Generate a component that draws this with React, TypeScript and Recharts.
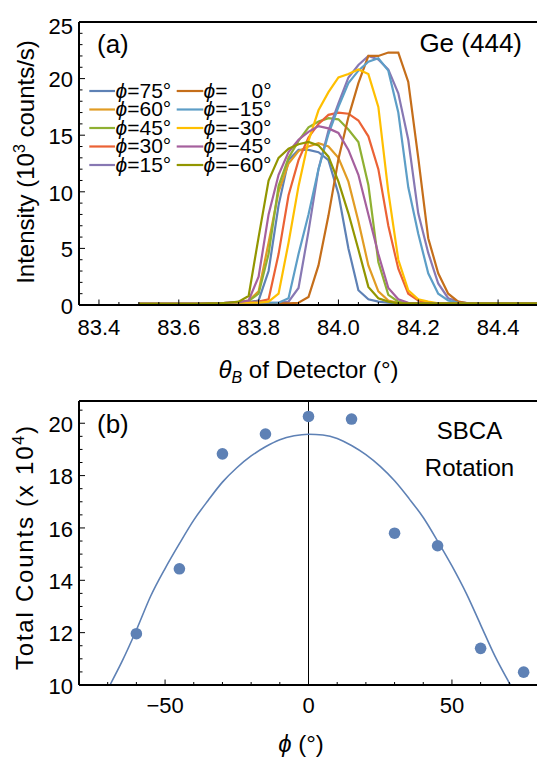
import React from 'react';
import { LineChart, Line, XAxis, YAxis, ComposedChart, Scatter, ReferenceLine } from 'recharts';

const FONT = '"Liberation Sans", Arial, Helvetica, sans-serif';

// (a) detector scans, intensity in 10^3 counts/s
const theta = [
  83.5, 83.525, 83.55, 83.575, 83.6, 83.625, 83.65, 83.675, 83.7, 83.725,
  83.75, 83.775, 83.8, 83.825, 83.85, 83.875, 83.9, 83.925, 83.95, 83.975,
  84.0, 84.025, 84.05, 84.075, 84.1, 84.125, 84.15, 84.175, 84.2, 84.225,
  84.25, 84.275, 84.3, 84.325, 84.35, 84.375, 84.4, 84.425, 84.45, 84.475, 84.5,
];

const phi75 = [0.1, 0.1, 0.1, 0.1, 0.1, 0.1, 0.1, 0.15, 0.15, 0.2, 0.2, 0.25, 0.4, 3.0, 8.8, 12.8, 13.7, 13.7, 13.5, 12.8, 9.8, 5.0, 1.3, 0.5, 0.3, 0.2, 0.15, 0.15, 0.15, 0.15, 0.15, 0.15, 0.15, 0.15, 0.15, 0.15, 0.15, 0.15, 0.15, 0.15, 0.15];
const phi60 = [0.1, 0.1, 0.1, 0.1, 0.1, 0.1, 0.1, 0.15, 0.15, 0.2, 0.25, 0.4, 1.2, 5.5, 10.0, 12.5, 13.6, 14.0, 14.3, 14.0, 13.0, 10.9, 7.4, 3.5, 1.2, 0.4, 0.2, 0.15, 0.15, 0.15, 0.15, 0.15, 0.15, 0.15, 0.15, 0.15, 0.15, 0.15, 0.15, 0.15, 0.15];
const phi45 = [0.1, 0.1, 0.1, 0.1, 0.1, 0.1, 0.1, 0.15, 0.15, 0.2, 0.25, 0.35, 1.0, 4.5, 10.5, 13.0, 14.5, 15.7, 16.2, 16.5, 16.4, 15.5, 14.4, 10.6, 3.8, 0.9, 0.3, 0.15, 0.15, 0.15, 0.15, 0.15, 0.15, 0.15, 0.15, 0.15, 0.15, 0.15, 0.15, 0.15, 0.15];
const phi30 = [0.1, 0.1, 0.1, 0.1, 0.1, 0.1, 0.1, 0.15, 0.15, 0.2, 0.2, 0.25, 0.3, 0.5, 4.5, 9.7, 12.8, 14.8, 16.0, 16.8, 17.0, 16.9, 16.3, 14.9, 12.0, 7.0, 3.2, 1.0, 0.4, 0.2, 0.15, 0.15, 0.15, 0.15, 0.15, 0.15, 0.15, 0.15, 0.15, 0.15, 0.15];
const phi15 = [0.1, 0.1, 0.1, 0.1, 0.1, 0.1, 0.1, 0.15, 0.15, 0.2, 0.2, 0.2, 0.2, 0.2, 0.2, 0.3, 1.5, 6.5, 12.0, 15.4, 17.8, 20.1, 21.2, 22.0, 21.7, 20.8, 18.7, 14.6, 8.1, 4.6, 1.9, 0.6, 0.3, 0.15, 0.15, 0.15, 0.15, 0.15, 0.15, 0.15, 0.15];
const phi0 = [0.1, 0.1, 0.1, 0.1, 0.1, 0.1, 0.1, 0.15, 0.15, 0.15, 0.15, 0.15, 0.15, 0.15, 0.15, 0.15, 0.2, 0.7, 3.5, 7.9, 12.9, 16.6, 19.6, 22.0, 22.0, 22.3, 22.3, 19.7, 13.0, 5.9, 2.8, 1.0, 0.3, 0.15, 0.15, 0.15, 0.15, 0.15, 0.15, 0.15, 0.15];
const phiM15 = [0.1, 0.1, 0.1, 0.1, 0.1, 0.1, 0.1, 0.15, 0.15, 0.2, 0.2, 0.2, 0.2, 0.2, 0.2, 0.6, 4.5, 8.0, 12.0, 15.1, 17.5, 19.6, 20.7, 21.5, 21.8, 20.7, 17.0, 10.4, 6.3, 2.8, 1.0, 0.4, 0.2, 0.15, 0.15, 0.15, 0.15, 0.15, 0.15, 0.15, 0.15];
const phiM30 = [0.1, 0.1, 0.1, 0.1, 0.1, 0.1, 0.1, 0.15, 0.15, 0.2, 0.2, 0.2, 0.2, 0.3, 1.0, 5.5, 10.5, 14.5, 17.2, 18.8, 20.1, 20.4, 20.8, 20.4, 17.5, 10.0, 4.0, 1.3, 0.5, 0.3, 0.15, 0.15, 0.15, 0.15, 0.15, 0.15, 0.15, 0.15, 0.15, 0.15, 0.15];
const phiM45 = [0.1, 0.1, 0.1, 0.1, 0.1, 0.1, 0.1, 0.15, 0.15, 0.2, 0.25, 0.4, 2.5, 8.0, 11.5, 13.5, 14.6, 15.3, 15.8, 15.6, 15.2, 13.7, 11.5, 8.0, 4.5, 1.5, 0.5, 0.2, 0.15, 0.15, 0.15, 0.15, 0.15, 0.15, 0.15, 0.15, 0.15, 0.15, 0.15, 0.15, 0.15];
const phiM60 = [0.1, 0.1, 0.1, 0.1, 0.1, 0.1, 0.1, 0.15, 0.15, 0.2, 0.3, 0.8, 6.0, 11.0, 13.0, 13.8, 14.2, 14.4, 14.1, 13.1, 10.9, 8.1, 4.9, 1.6, 0.6, 0.3, 0.15, 0.15, 0.15, 0.15, 0.15, 0.15, 0.15, 0.15, 0.15, 0.15, 0.15, 0.15, 0.15, 0.15, 0.15];

const scans = [phi75, phi60, phi45, phi30, phi15, phi0, phiM15, phiM30, phiM45, phiM60];
const scanLabels = ['75°', '60°', '45°', '30°', '15°', '0°', '−15°', '−30°', '−45°', '−60°'];
const scanColors = ['#5E81B5', '#E19C24', '#8FB032', '#EB6235', '#8778B3', '#C56E1A', '#5D9EC7', '#FFBF00', '#A5609D', '#929600'];

const thetaTicks = [83.4, 83.45, 83.5, 83.55, 83.6, 83.65, 83.7, 83.75, 83.8, 83.85, 83.9, 83.95, 84.0, 84.05, 84.1, 84.15, 84.2, 84.25, 84.3, 84.35, 84.4, 84.45];
const thetaLabels = [83.4, 83.6, 83.8, 84.0, 84.2, 84.4];
const intensityTicks = [0, 1, 2, 3, 4, 5, 6, 7, 8, 9, 10, 11, 12, 13, 14, 15, 16, 17, 18, 19, 20, 21, 22, 23, 24, 25];
const intensityLabels = [0, 5, 10, 15, 20, 25];

// (b) total counts (x 10^4) vs rotation angle
const phiMeasured = [-60, -45, -30, -15, 0, 15, 30, 45, 60, 75];
const totalCounts = [11.96, 14.44, 18.83, 19.59, 20.26, 20.16, 15.8, 15.32, 11.4, 10.49];
const fitPhi = [-69.2, -65, -60, -55, -50, -45, -40, -35, -30, -25, -20, -15, -10, -5, 0, 5, 10, 15, 20, 25, 30, 35, 40, 45, 50, 55, 60, 65, 70.4];
const fitCounts = [10.0, 10.9, 12.1, 13.4, 14.45, 15.4, 16.3, 17.05, 17.75, 18.3, 18.75, 19.1, 19.37, 19.52, 19.58, 19.55, 19.42, 19.15, 18.8, 18.35, 17.8, 17.13, 16.4, 15.5, 14.55, 13.5, 12.3, 11.1, 10.0];

const phiTicks = [-70, -60, -50, -40, -30, -20, -10, 0, 10, 20, 30, 40, 50, 60, 70];
const phiLabels = [-50, 0, 50];
const countTicks = [10, 10.5, 11, 11.5, 12, 12.5, 13, 13.5, 14, 14.5, 15, 15.5, 16, 16.5, 17, 17.5, 18, 18.5, 19, 19.5, 20, 20.5];
const countLabels = [10, 12, 14, 16, 18, 20];

const scanRows = theta.map((t, i) => {
  const row: Record<string, number> = { theta: t };
  scans.forEach((s, k) => {
    row[`s${k}`] = s[i];
  });
  return row;
});
const pointRows = phiMeasured.map((p, i) => ({ phi: p, v: totalCounts[i] }));
const fitRows = fitPhi.map((p, i) => ({ phi: p, v: fitCounts[i] }));

const near = (list: number[], v: number) => list.some((l) => Math.abs(l - v) < 1e-6);

function xTick(labels: number[], fmt: (v: number) => string, dy: number) {
  return (props: any) => {
    const { x, y, payload } = props;
    const major = near(labels, payload.value);
    return (
      <g>
        <line x1={x} x2={x} y1={y} y2={y - (major ? 5.5 : 3)} stroke="#000" strokeWidth={1} />
        {major && (
          <text x={x} y={y + dy} textAnchor="middle" fontSize={22} fontFamily={FONT} fill="#000">
            {fmt(payload.value)}
          </text>
        )}
      </g>
    );
  };
}

function yTick(labels: number[], topValue: number) {
  return (props: any) => {
    const { x, y, payload } = props;
    const major = near(labels, payload.value);
    const shift = Math.abs(payload.value - topValue) < 1e-6 ? 3 : 0;
    return (
      <g>
        <line x1={x} x2={x + (major ? 6 : 3.5)} y1={y} y2={y} stroke="#000" strokeWidth={1} />
        {major && (
          <text x={x - 6} y={y + 8.8 + shift} textAnchor="end" fontSize={22} fontFamily={FONT} fill="#000">
            {String(payload.value)}
          </text>
        )}
      </g>
    );
  };
}

const minus = (v: number) => (v < 0 ? `−${Math.abs(v)}` : `${v}`);
const legendRows = [0, 1, 2, 3, 4];

export default function App() {
  return (
    <div style={{ position: 'absolute', left: 0, top: 0, width: 537, height: 759, overflow: 'hidden', background: '#fff' }}>
      <div style={{ position: 'absolute', left: 0, top: 0 }}>
        <LineChart width={540} height={400} data={scanRows} margin={{ top: 22, right: 2, left: 0, bottom: 0 }}>
          <XAxis
            dataKey="theta"
            type="number"
            domain={[83.35, 84.5]}
            allowDataOverflow
            ticks={thetaTicks}
            interval={0}
            height={95}
            tickSize={0}
            tickMargin={0}
            tickLine={false}
            axisLine={{ stroke: '#000', strokeWidth: 2 }}
            tick={xTick(thetaLabels, (v) => v.toFixed(1), 30)}
          />
          <YAxis
            type="number"
            domain={[0, 25]}
            allowDataOverflow
            ticks={intensityTicks}
            interval={0}
            width={79}
            tickSize={0}
            tickMargin={0}
            tickLine={false}
            axisLine={{ stroke: '#000', strokeWidth: 2 }}
            tick={yTick(intensityLabels, 25)}
          />
          <ReferenceLine y={25} stroke="#000" strokeWidth={2} />
          {scans.map((_, k) => (
            <Line
              key={k}
              dataKey={`s${k}`}
              type="linear"
              stroke={scanColors[k]}
              strokeWidth={2.2}
              dot={false}
              isAnimationActive={false}
            />
          ))}
        </LineChart>
      </div>

      <div style={{ position: 'absolute', left: 0, top: 380 }}>
        <ComposedChart width={540} height={380} margin={{ top: 21, right: 2, left: 0, bottom: 0 }}>
          <XAxis
            dataKey="phi"
            type="number"
            domain={[-80, 80]}
            allowDataOverflow
            ticks={phiTicks}
            interval={0}
            height={75}
            tickSize={0}
            tickMargin={0}
            tickLine={false}
            axisLine={{ stroke: '#000', strokeWidth: 2 }}
            tick={xTick(phiLabels, minus, 28.3)}
          />
          <YAxis
            type="number"
            domain={[10, 20.85]}
            allowDataOverflow
            ticks={countTicks}
            interval={0}
            width={79}
            tickSize={0}
            tickMargin={0}
            tickLine={false}
            axisLine={{ stroke: '#000', strokeWidth: 2 }}
            tick={yTick(countLabels, 99)}
          />
          <ReferenceLine y={20.85} stroke="#000" strokeWidth={2} />
          <ReferenceLine x={0} stroke="#000" strokeWidth={1} />
          <Line
            data={fitRows}
            dataKey="v"
            type="monotone"
            stroke="#5E81B5"
            strokeWidth={1.6}
            dot={false}
            isAnimationActive={false}
          />
          <Scatter
            data={pointRows}
            dataKey="v"
            fill="#5E81B5"
            isAnimationActive={false}
            shape={(p: any) => <circle cx={p.cx} cy={p.cy} r={5.8} fill="#5E81B5" />}
          />
        </ComposedChart>
      </div>

      <svg
        width={537}
        height={759}
        style={{ position: 'absolute', left: 0, top: 0, pointerEvents: 'none' }}
        fontFamily={FONT}
        fill="#000"
      >
        <text x={97} y={53} fontSize={26}>(a)</text>
        <text x={522} y={52} fontSize={26} textAnchor="end">Ge (444)</text>

        {legendRows.map((r) => {
          const y = 91 + r * 18.5;
          const right = scanLabels[r + 5];
          return (
            <g key={r}>
              <line x1={89.3} x2={115} y1={y} y2={y} stroke={scanColors[r]} strokeWidth={2.2} />
              <text x={115.5} y={y + 6.5} fontSize={21}>
                <tspan fontStyle="italic">ϕ</tspan>={scanLabels[r]}
              </text>
              <line x1={176.7} x2={203.3} y1={y} y2={y} stroke={scanColors[r + 5]} strokeWidth={2.2} />
              <text x={203.5} y={y + 6.5} fontSize={21}>
                <tspan fontStyle="italic">ϕ</tspan>=
                <tspan dx={right.length < 3 ? 24 : 0}>{right}</tspan>
              </text>
            </g>
          );
        })}

        <text x={308.5} y={378} fontSize={24} textAnchor="middle">
          <tspan fontStyle="italic">θ</tspan>
          <tspan fontStyle="italic" fontSize={16} dy={5}>B</tspan>
          <tspan dy={-5}> of Detector (°)</tspan>
        </text>
        <text transform="translate(33.5,162) rotate(-90)" fontSize={24} textAnchor="middle">
          Intensity (10<tspan fontSize={16} dy={-9}>3</tspan>
          <tspan dy={9}> counts/s)</tspan>
        </text>

        <text x={97} y={433} fontSize={26}>(b)</text>
        <text x={469.5} y={439} fontSize={24} textAnchor="middle">SBCA</text>
        <text x={469.5} y={476} fontSize={24} textAnchor="middle">Rotation</text>
        <text
          transform="translate(33.3,548) rotate(-90)"
          fontSize={24}
          textAnchor="middle"
          textLength={244}
          lengthAdjust="spacing"
        >
          Total Counts (x 10<tspan fontSize={16} dy={-9}>4</tspan>
          <tspan dy={9}>)</tspan>
        </text>
        <text x={301} y={752} fontSize={24} textAnchor="middle">
          <tspan fontStyle="italic">ϕ</tspan> (°)
        </text>
      </svg>
    </div>
  );
}
